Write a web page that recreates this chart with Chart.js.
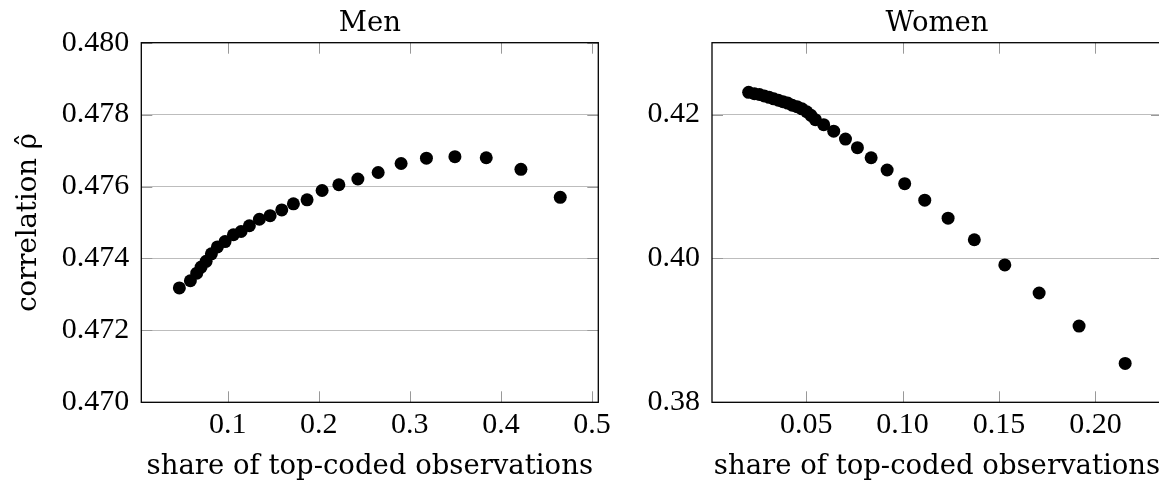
<!DOCTYPE html>
<html>
<head>
<meta charset="utf-8">
<script src="https://cdn.jsdelivr.net/npm/chart.js@4/dist/chart.umd.min.js"></script>
<style>
  html, body { margin: 0; padding: 0; background: #fff; overflow: hidden; width: 1159px; height: 481px; }
  canvas { position: absolute; top: 0; }
  #men { left: 0; }
  #women { left: 600px; }
</style>
</head>
<body>
<canvas id="men" width="620" height="481"></canvas>
<canvas id="women" width="580" height="481"></canvas>
<script>
// data

var menShare = [0.0468, 0.0589, 0.0659, 0.0707, 0.0762, 0.0820, 0.0886, 0.0970, 0.1062, 0.1146,
    0.1237, 0.1347, 0.1465, 0.1593, 0.1721, 0.1871, 0.2036, 0.2220, 0.2429, 0.2652,
    0.2904, 0.3182, 0.3495, 0.3839, 0.4220, 0.4652];
var menRho = [0.47318, 0.47338, 0.47359, 0.47376, 0.47392, 0.47413, 0.47432, 0.47447, 0.47466, 0.47475,
    0.47491, 0.47509, 0.47519, 0.47535, 0.47552, 0.47563, 0.47589, 0.47605, 0.47621, 0.47639,
    0.47664, 0.47679, 0.47683, 0.47680, 0.47648, 0.47570];

var womenShare = [0.0202, 0.0232, 0.0258, 0.0283, 0.0308, 0.0332, 0.0356, 0.0380, 0.0404, 0.0428,
    0.0453, 0.0478, 0.0503, 0.0525, 0.0548, 0.0591, 0.0643, 0.0704, 0.0766, 0.0837,
    0.0920, 0.1011, 0.1115, 0.1236, 0.1372, 0.1530, 0.1708, 0.1915, 0.2154];
var womenRho = [0.4231, 0.4229, 0.4228, 0.4226, 0.4224, 0.4222, 0.4220, 0.4218, 0.4216, 0.4213,
    0.4211, 0.4208, 0.4204, 0.4199, 0.4193, 0.4186, 0.4177, 0.4166, 0.4154, 0.4140,
    0.4123, 0.4104, 0.4081, 0.4056, 0.4026, 0.3991, 0.3952, 0.3906, 0.3854];

var menXTicks = [0.1, 0.2, 0.3, 0.4, 0.5];
var menYTicks = [0.470, 0.472, 0.474, 0.476, 0.478, 0.480];
var womenXTicks = [0.05, 0.10, 0.15, 0.20];
var womenYTicks = [0.38, 0.40, 0.42];

var TICK_FONT = { family: "'Liberation Serif', 'Times New Roman', serif", size: 30, lineHeight: 1.2 };
var TITLE_FONT = { family: "'DejaVu Serif', serif", size: 27.5, lineHeight: 1.0 };

// box round the plot plus the small inward tick marks
var framePlugin = {
    id: 'frame',
    beforeDatasetsDraw: function (chart) {
        var ctx = chart.ctx, a = chart.chartArea;
        var xs = chart.scales.x, ys = chart.scales.y;
        var len = 11;
        ctx.save();
        ctx.strokeStyle = '#999';
        ctx.lineWidth = 1;
        ctx.beginPath();
        xs.ticks.forEach(function (t) {
            var px = Math.round(xs.getPixelForValue(t.value)) + 0.5;
            ctx.moveTo(px, a.bottom); ctx.lineTo(px, a.bottom - len);
            ctx.moveTo(px, a.top); ctx.lineTo(px, a.top + len);
        });
        ys.ticks.forEach(function (t) {
            var py = Math.round(ys.getPixelForValue(t.value)) + 0.5;
            ctx.moveTo(a.left, py); ctx.lineTo(a.left + len, py);
            ctx.moveTo(a.right, py); ctx.lineTo(a.right - len, py);
        });
        ctx.stroke();
        ctx.strokeStyle = '#000';
        ctx.lineWidth = 1.3;
        ctx.strokeRect(a.left, a.top, a.right - a.left, a.bottom - a.top);
        ctx.restore();
    }
};

function makeChart(id, title, xs, ys, xTicks, yTicks, xMin, xMax, yMin, yMax, xDec, yDec, yWidth, padRight, yTitle) {
    var pts = xs.map(function (v, i) { return { x: v, y: ys[i] }; });
    return new Chart(document.getElementById(id), {
        type: 'scatter',
        data: {
            datasets: [{
                data: pts,
                backgroundColor: '#000',
                borderWidth: 0,
                pointRadius: 6.5,
                pointHoverRadius: 6.5
            }]
        },
        options: {
            responsive: false,
            animation: false,
            events: [],
            layout: { padding: { left: 0, right: padRight, top: 0, bottom: 0 } },
            plugins: { legend: { display: false }, tooltip: { enabled: false } },
            scales: {
                x: {
                    type: 'linear', position: 'bottom', min: xMin, max: xMax,
                    afterBuildTicks: function (s) { s.ticks = xTicks.map(function (v) { return { value: v }; }); },
                    afterFit: function (s) { s.height = 78.7; },
                    grid: { display: false, drawTicks: false },
                    border: { display: false },
                    ticks: {
                        color: '#000', font: TICK_FONT, padding: 5, maxRotation: 0, autoSkip: false,
                        callback: function (v) { return Number(v).toFixed(xDec); }
                    },
                    title: {
                        display: true, text: 'share of top-coded observations', color: '#000',
                        font: TITLE_FONT, padding: { top: 0, bottom: 0 }
                    }
                },
                top: {
                    type: 'linear', position: 'top', axis: 'x',
                    afterFit: function (s) { s.height = 42.7; },
                    grid: { display: false },
                    border: { display: false },
                    ticks: { display: false },
                    title: { display: true, text: title, color: '#000', font: TITLE_FONT, padding: { top: 10, bottom: 0 } }
                },
                y: {
                    type: 'linear', min: yMin, max: yMax,
                    afterBuildTicks: function (s) { s.ticks = yTicks.map(function (v) { return { value: v }; }); },
                    afterFit: function (s) { s.width = yWidth; },
                    grid: { color: '#bdbdbd', lineWidth: 1, drawTicks: false },
                    border: { display: false },
                    ticks: {
                        color: '#000', font: TICK_FONT, padding: 12,
                        callback: function (v) { return Number(v).toFixed(yDec); }
                    },
                    title: {
                        display: yTitle !== '', text: yTitle, color: '#000', font: TITLE_FONT,
                        padding: { top: 15, bottom: 0 }
                    }
                }
            }
        },
        plugins: [framePlugin]
    });
}

makeChart('men', 'Men', menShare, menRho, menXTicks, menYTicks,
    0.005, 0.507, 0.470, 0.480, 1, 3, 141.3, 21.7, 'correlation \u03C1\u0302');
makeChart('women', 'Women', womenShare, womenRho, womenXTicks, womenYTicks,
    0.0012, 0.2345, 0.38, 0.43, 2, 2, 112, 18, '');
</script>
</body>
</html>
